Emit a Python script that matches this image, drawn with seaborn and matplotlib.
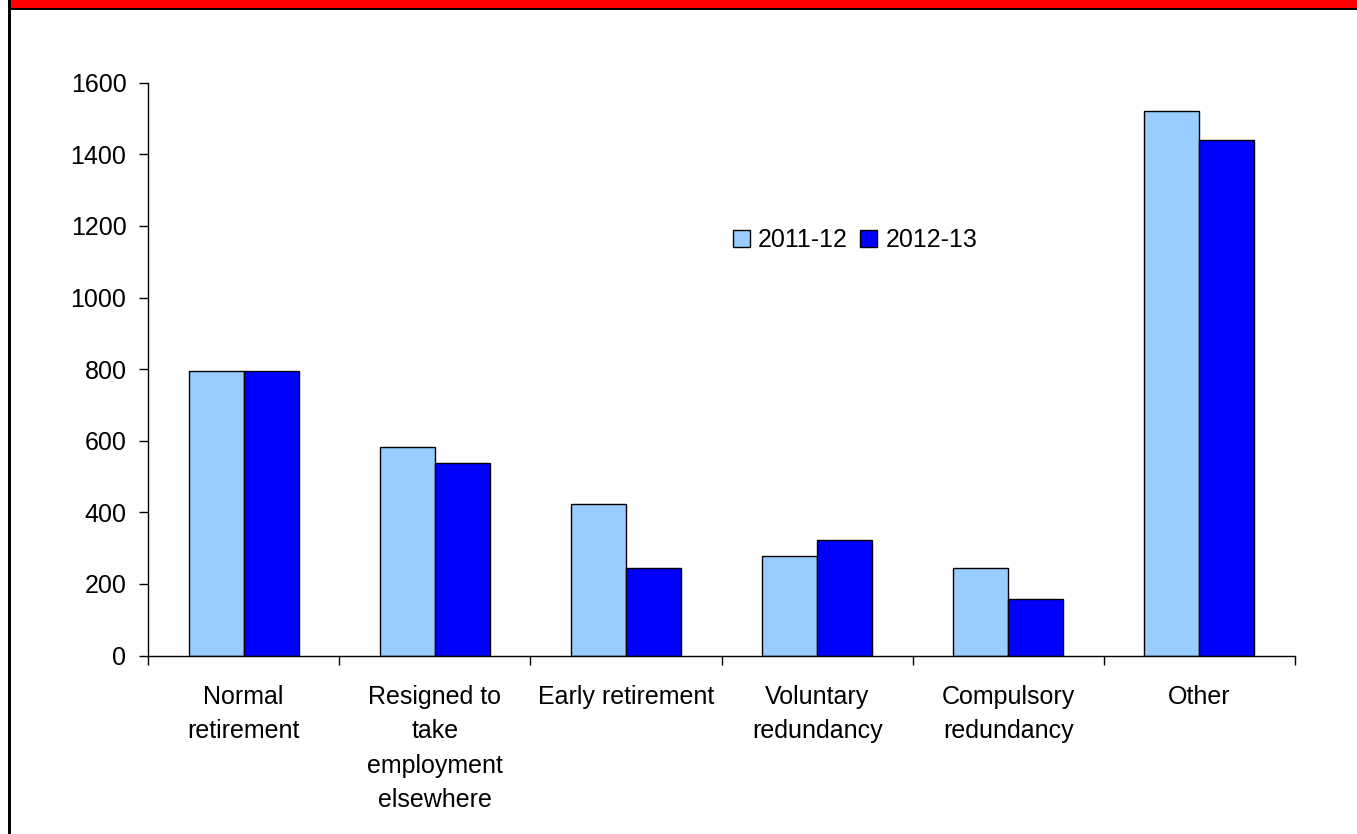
import matplotlib
matplotlib.use("Agg")
import matplotlib.pyplot as plt
from matplotlib.patches import Rectangle
import pandas as pd
import seaborn as sns

# Leavers by reason, two financial years
categories = [
    "Normal\nretirement",
    "Resigned to\ntake\nemployment\nelsewhere",
    "Early retirement",
    "Voluntary\nredundancy",
    "Compulsory\nredundancy",
    "Other",
]
years = ["2011-12", "2012-13"]
values_2011_12 = [795, 582, 422, 279, 244, 1521]
values_2012_13 = [795, 538, 244, 323, 159, 1440]
y_ticks = [0, 200, 400, 600, 800, 1000, 1200, 1400, 1600]
colors = ["#99CCFF", "#0000FF"]

df = pd.DataFrame({
    "Reason": categories * 2,
    "Year": [years[0]] * len(categories) + [years[1]] * len(categories),
    "Leavers": values_2011_12 + values_2012_13,
})

sns.set_theme(style="white")
plt.rcParams["font.family"] = ["Liberation Sans", "DejaVu Sans"]
plt.rcParams["text.color"] = "black"
plt.rcParams["xtick.color"] = "black"
plt.rcParams["ytick.color"] = "black"
plt.rcParams["axes.labelcolor"] = "black"

fig = plt.figure(figsize=(13.57, 8.34), dpi=100)
ax = fig.add_axes([148 / 1357, 1 - 655.5 / 834, (1295 - 148) / 1357, (655.5 - 82.7) / 834])

sns.barplot(
    data=df, x="Reason", y="Leavers", hue="Year", order=categories,
    hue_order=years, palette=colors, width=0.576, edgecolor="black",
    linewidth=1.0, saturation=1, ax=ax,
)

ax.set_xlim(-0.5, len(categories) - 0.5)
ax.set_ylim(0, 1600)
ax.set_yticks(y_ticks)
ax.set_yticklabels([str(v) for v in y_ticks])
ax.set_xlabel("")
ax.set_ylabel("")

# Category boundary ticks on the bottom axis, labels at the category centres
ax.set_xticks([i - 0.5 for i in range(len(categories) + 1)])
ax.set_xticklabels([])
ax.set_xticks(range(len(categories)), minor=True)
ax.set_xticklabels(categories, minor=True, fontsize=18, linespacing=1.55,
                   ha="center", va="top", color="black")
ax.tick_params(axis="x", which="major", direction="out", length=6.5, width=1,
               color="black", bottom=True)
ax.tick_params(axis="x", which="minor", length=0, pad=21, bottom=True,
               labelcolor="black")
ax.tick_params(axis="y", direction="out", length=6.5, width=1, color="black",
               labelsize=18, pad=9, left=True, labelcolor="black")

for side in ("top", "right"):
    ax.spines[side].set_visible(False)
for side in ("left", "bottom"):
    ax.spines[side].set_color("black")
    ax.spines[side].set_linewidth(1.0)

handles, labels = ax.get_legend_handles_labels()
ax.legend(
    handles, labels, ncol=2, frameon=False, fontsize=18, labelcolor="black",
    loc="center left", bbox_to_anchor=(733 / 1357, 1 - 240 / 834),
    bbox_transform=fig.transFigure, handlelength=0.68, handleheight=0.68,
    handletextpad=0.32, columnspacing=0.5, borderpad=0, borderaxespad=0,
)

# Page frame: red band with a black rule beneath and a black left edge
fig.patches.append(Rectangle((8 / 1357, 1 - 7.5 / 834), 1, 7.5 / 834, linewidth=0,
                             transform=fig.transFigure, facecolor="#FF0000", zorder=0))
fig.patches.append(Rectangle((8 / 1357, 1 - 10 / 834), 1, 2.5 / 834, linewidth=0,
                             transform=fig.transFigure, facecolor="black", zorder=1))
fig.patches.append(Rectangle((8 / 1357, 0), 2.5 / 1357, 1, linewidth=0,
                             transform=fig.transFigure, facecolor="black", zorder=1))

fig.savefig("out.png", dpi=100, facecolor="white")
